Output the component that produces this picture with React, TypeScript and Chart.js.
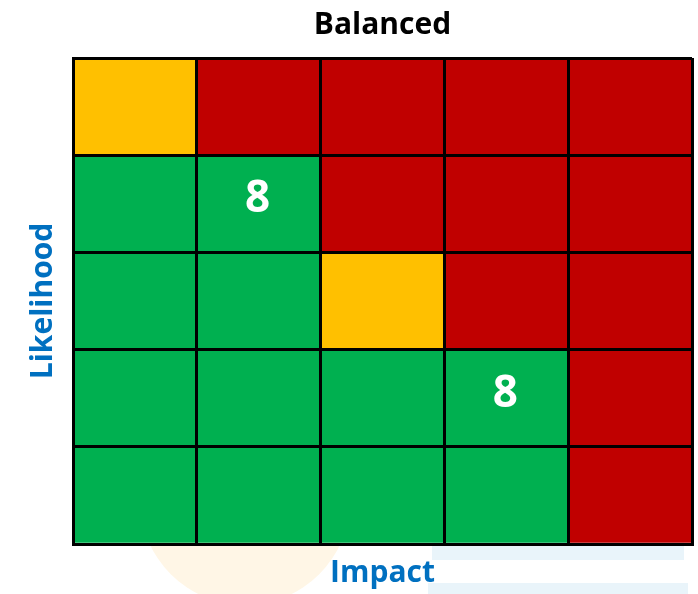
import React, { useEffect, useRef } from "react";
import { Chart, registerables } from "chart.js";

Chart.register(...registerables);

const chartTitle = "Balanced";
const xAxisTitle = "Impact";
const yAxisTitle = "Likelihood";

const impactLabels = ["1", "2", "3", "4", "5"];
const likelihoodLevels = [1, 2, 3, 4, 5];

// Rating of each cell, one row per likelihood level (1 = bottom), columns = impact 1..5
const ratingsL1 = ["G", "G", "G", "G", "R"];
const ratingsL2 = ["G", "G", "G", "G", "R"];
const ratingsL3 = ["G", "G", "Y", "R", "R"];
const ratingsL4 = ["G", "G", "R", "R", "R"];
const ratingsL5 = ["Y", "R", "R", "R", "R"];
const ratingRows = [ratingsL1, ratingsL2, ratingsL3, ratingsL4, ratingsL5];

// Counts shown inside cells (null = empty)
const countsL1 = [null, null, null, null, null];
const countsL2 = [null, null, null, 8, null];
const countsL3 = [null, null, null, null, null];
const countsL4 = [null, 8, null, null, null];
const countsL5 = [null, null, null, null, null];
const countRows = [countsL1, countsL2, countsL3, countsL4, countsL5];

const ratingColors: Record<string, string> = {
  G: "#00B050",
  Y: "#FFC000",
  R: "#C00000",
};

const FONT = "'Open Sans', 'DejaVu Sans', sans-serif";

const watermarkPlugin = {
  id: "watermark",
  beforeDraw(chart: any) {
    const ctx = chart.ctx;
    ctx.save();
    ctx.fillStyle = "#FFF6E6";
    ctx.beginPath();
    ctx.arc(245, 500, 105, 0, Math.PI * 2);
    ctx.fill();
    ctx.fillStyle = "#E9F4FA";
    ctx.fillRect(432, 540, 252, 20);
    ctx.fillRect(428, 583, 260, 12);
    ctx.restore();
  },
};

const cellLabelPlugin = {
  id: "cellLabels",
  afterDraw(chart: any) {
    const ctx = chart.ctx;
    ctx.save();
    ctx.fillStyle = "#FFFFFF";
    ctx.font = `bold 44px ${FONT}`;
    ctx.textAlign = "center";
    ctx.textBaseline = "middle";
    chart.data.datasets.forEach((ds: any, di: number) => {
      const meta = chart.getDatasetMeta(di);
      meta.data.forEach((el: any, i: number) => {
        const v = ds.counts[i];
        if (v === null || v === undefined) return;
        const cy = (el.y + el.base) / 2 - 4;
        ctx.fillText(String(v), el.x - 1, cy);
      });
    });
    ctx.restore();
  },
};

export default function App() {
  const canvasRef = useRef<HTMLCanvasElement | null>(null);

  useEffect(() => {
    if (!canvasRef.current) return;
    const datasets = likelihoodLevels.map((lvl, r) => ({
      label: `Likelihood ${lvl}`,
      data: impactLabels.map(() => 1),
      counts: countRows[r],
      backgroundColor: ratingRows[r].map((c) => ratingColors[c]),
      borderWidth: 0,
      barPercentage: 1,
      categoryPercentage: 1,
    }));

    const chart = new Chart(canvasRef.current, {
      type: "bar",
      data: { labels: impactLabels, datasets: datasets as any },
      options: {
        responsive: false,
        animation: false,
        layout: { padding: { left: 0, right: 6, top: 0, bottom: 0 } },
        plugins: {
          legend: { display: false },
          tooltip: { enabled: false },
          title: {
            display: true,
            fullSize: false,
            text: chartTitle,
            color: "#000000",
            font: { family: FONT, size: 30, weight: "bold", lineHeight: 1.2 },
            padding: { top: 7, bottom: 15 },
          },
        },
        scales: {
          x: {
            stacked: true,
            ticks: { display: false },
            grid: { color: "#000000", lineWidth: 3, drawTicks: false, offset: true, z: 1 },
            border: { display: true, color: "#000000", width: 3, z: 1 },
            title: {
              display: true,
              text: xAxisTitle,
              color: "#0070C0",
              font: { family: FONT, size: 30, weight: "bold", lineHeight: 1.2 },
              padding: { top: 11, bottom: 3 },
            },
          },
          y: {
            stacked: true,
            min: 0,
            max: 5,
            ticks: { display: false, stepSize: 1 },
            grid: { color: "#000000", lineWidth: 3, drawTicks: false, z: 1 },
            border: { display: true, color: "#000000", width: 3, z: 1 },
            title: {
              display: true,
              text: yAxisTitle,
              color: "#0070C0",
              font: { family: FONT, size: 30, weight: "bold", lineHeight: 1.2 },
              padding: { top: 25, bottom: 12 },
            },
          },
        },
      },
      plugins: [watermarkPlugin, cellLabelPlugin],
    });
    return () => chart.destroy();
  }, []);

  return (
    <div style={{ position: "absolute", left: 0, top: 0, width: 698, height: 594, background: "#FFFFFF" }}>
      <canvas ref={canvasRef} width={698} height={594} />
    </div>
  );
}
